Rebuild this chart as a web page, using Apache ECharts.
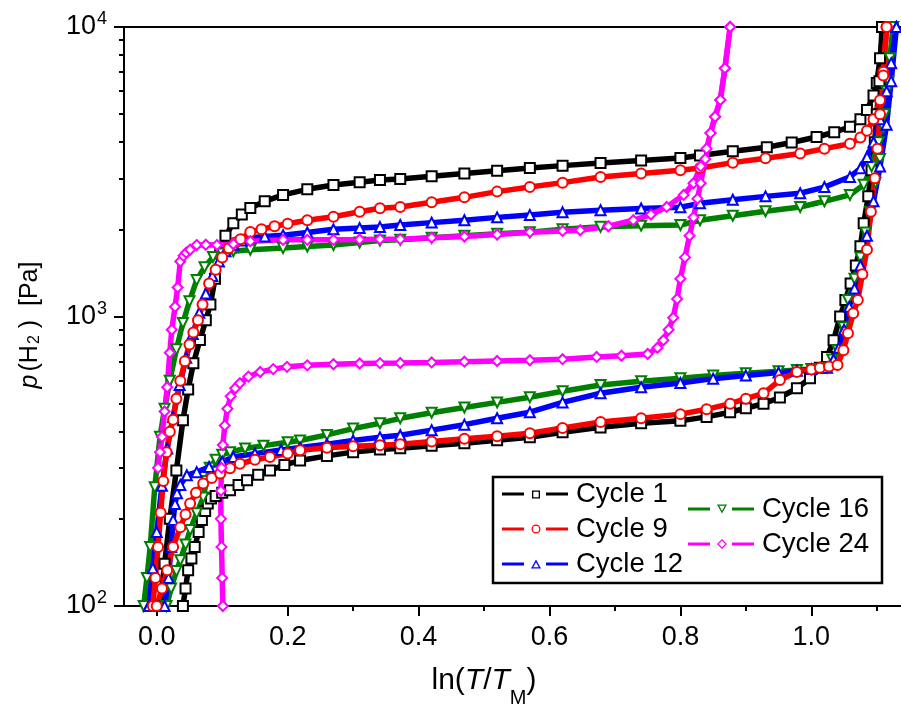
<!DOCTYPE html>
<html>
<head>
<meta charset="utf-8">
<script src="https://cdn.jsdelivr.net/npm/echarts@6/dist/echarts.min.js"></script>
<style>html,body{margin:0;padding:0;background:#fff}#c{width:901px;height:709px}</style>
</head>
<body>
<div id="c"></div>
<script>
// ---- data ----
const cycleNames = ['Cycle 1', 'Cycle 9', 'Cycle 12', 'Cycle 16', 'Cycle 24'];
const xTickValues = [0, 0.2, 0.4, 0.6, 0.8, 1.0];
const xMinorTickValues = [0.1, 0.3, 0.5, 0.7, 0.9, 1.1];

// Cycle 1 (black)
const c1UpX = [0.005,0.012,0.02,0.03,0.04,0.048,0.056,0.066,0.075,0.082,0.089,0.097,0.105,0.117,0.13,0.143,0.165,0.193,0.23,0.27,0.31,0.341,0.372,0.42,0.47,0.52,0.57,0.62,0.678,0.74,0.8,0.83,0.88,0.932,0.97,1.008,1.035,1.059,1.075,1.085,1.095,1.10,1.105,1.11];
const c1UpY = [100,140,200,294,438,560,689,830,970,1100,1350,1650,1900,2100,2250,2370,2500,2630,2750,2845,2910,2960,2985,3050,3120,3190,3260,3320,3390,3460,3525,3600,3720,3845,3990,4170,4330,4520,4800,5170,5800,6400,7800,10000];
const c1LoX = [0.04,0.044,0.048,0.053,0.058,0.064,0.069,0.074,0.078,0.083,0.09,0.1,0.112,0.125,0.138,0.155,0.173,0.195,0.219,0.26,0.3,0.341,0.372,0.42,0.47,0.52,0.57,0.62,0.678,0.74,0.8,0.84,0.876,0.9,0.927,0.952,0.978,0.998,1.013,1.024,1.034,1.044,1.052,1.06,1.068,1.075,1.08,1.087,1.092,1.097,1.10,1.104,1.108];
const c1LoY = [100,115,133,146,160,180,198,213,226,235,240,246,251,262,272,284,294,307,318,330,340,347,351,358,365,374,383,398,414,428,436,450,467,482,500,525,565,612,665,725,828,1000,1140,1300,1500,1750,2100,2600,3200,4000,5000,6500,10000];

// Cycle 9 (red)
const c9UpX = [-0.006,-0.002,0.002,0.006,0.01,0.015,0.02,0.025,0.03,0.036,0.043,0.05,0.056,0.063,0.07,0.08,0.09,0.1,0.11,0.12,0.128,0.143,0.16,0.18,0.2,0.23,0.27,0.31,0.341,0.372,0.42,0.47,0.52,0.57,0.62,0.678,0.74,0.8,0.83,0.88,0.93,0.983,1.02,1.059,1.075,1.085,1.095,1.105,1.11,1.115];
const c9UpY = [100,125,160,210,270,340,400,440,520,600,700,800,880,970,1100,1300,1450,1600,1720,1800,1850,1960,2000,2050,2090,2150,2210,2300,2365,2390,2480,2580,2700,2800,2900,3035,3120,3200,3260,3400,3520,3655,3800,3950,4150,4385,4800,5585,7000,10000];
const c9LoX = [0.0,0.008,0.016,0.025,0.036,0.044,0.051,0.06,0.071,0.084,0.097,0.112,0.127,0.15,0.173,0.2,0.219,0.26,0.3,0.341,0.372,0.42,0.47,0.52,0.57,0.62,0.678,0.74,0.8,0.84,0.876,0.9,0.927,0.952,0.978,1.0,1.013,1.027,1.04,1.049,1.056,1.064,1.071,1.078,1.085,1.091,1.097,1.101,1.105,1.11,1.115];
const c9LoY = [100,115,133,160,187,207,226,246,265,277,287,299,310,320,327,336,345,352,356,359,362,370,378,386,395,412,432,445,460,478,500,520,543,603,643,656,665,672,680,765,875,1026,1140,1400,1700,2300,3000,3800,5000,6800,10000];

// Cycle 12 (blue)
const c12UpX = [-0.012,-0.006,0.0,0.008,0.016,0.025,0.035,0.045,0.055,0.065,0.075,0.085,0.095,0.105,0.117,0.13,0.143,0.165,0.193,0.23,0.27,0.31,0.341,0.372,0.42,0.47,0.52,0.57,0.62,0.678,0.74,0.8,0.83,0.88,0.93,0.983,1.02,1.059,1.075,1.085,1.095,1.105,1.115,1.122,1.13];
const c12UpY = [100,135,180,260,350,450,580,720,870,1030,1200,1380,1550,1680,1770,1830,1870,1890,1910,1950,2000,2020,2036,2070,2110,2150,2200,2240,2290,2330,2360,2385,2460,2530,2600,2665,2800,3035,3250,3555,4000,4800,6000,7500,10000];
const c12LoX = [0.012,0.018,0.022,0.025,0.028,0.031,0.036,0.046,0.061,0.08,0.1,0.117,0.15,0.19,0.219,0.26,0.3,0.341,0.372,0.42,0.47,0.52,0.57,0.62,0.678,0.74,0.8,0.85,0.9,0.95,0.978,1.0,1.024,1.034,1.042,1.05,1.058,1.066,1.075,1.085,1.095,1.105,1.115,1.122,1.13];
const c12LoY = [100,125,160,198,225,245,262,283,290,302,315,327,336,346,353,362,373,383,389,405,423,445,467,505,543,570,589,610,625,640,650,658,665,710,780,900,1080,1250,1500,1900,2500,3300,4600,6500,10000];

// Cycle 16 (green)
const c16UpX = [-0.02,-0.015,-0.01,-0.003,0.005,0.012,0.02,0.03,0.04,0.05,0.061,0.073,0.086,0.1,0.117,0.143,0.193,0.23,0.27,0.31,0.341,0.372,0.42,0.47,0.52,0.57,0.62,0.678,0.74,0.8,0.83,0.88,0.93,0.983,1.02,1.059,1.08,1.092,1.103,1.112,1.118,1.125];
const c16UpY = [100,125,160,257,384,480,600,770,950,1130,1336,1480,1606,1650,1680,1700,1723,1745,1765,1800,1830,1840,1870,1900,1930,1955,2000,2040,2060,2070,2150,2230,2310,2390,2500,2630,2850,3300,4000,5000,6500,10000];
const c16LoX = [0.015,0.022,0.03,0.036,0.044,0.051,0.061,0.071,0.076,0.081,0.09,0.1,0.112,0.135,0.163,0.2,0.219,0.26,0.3,0.341,0.372,0.42,0.47,0.52,0.57,0.62,0.678,0.74,0.8,0.85,0.9,0.95,0.978,1.0,1.024,1.032,1.04,1.049,1.056,1.066,1.075,1.083,1.09,1.098,1.105,1.11,1.115,1.12,1.125];
const c16LoY = [100,115,132,144,163,183,209,237,270,300,320,333,340,350,358,368,373,390,410,428,445,465,485,505,526,552,580,598,612,625,637,647,653,659,665,710,765,918,1140,1350,1600,1950,2300,2900,3500,4500,6000,7800,10000];

// Cycle 24 (magenta)
const c24UpX = [0.002,0.005,0.008,0.012,0.016,0.02,0.023,0.028,0.032,0.036,0.041,0.045,0.051,0.061,0.075,0.092,0.117,0.143,0.193,0.23,0.27,0.31,0.341,0.372,0.42,0.47,0.52,0.57,0.62,0.647,0.69,0.728,0.755,0.779,0.805,0.82,0.831,0.84,0.846,0.853,0.861,0.868,0.876];
const c24UpY = [300,340,384,470,570,750,900,1080,1260,1550,1620,1660,1700,1765,1770,1765,1780,1820,1840,1840,1840,1845,1850,1850,1870,1890,1920,1955,1975,1986,2050,2150,2250,2390,2630,2885,3300,3800,4300,4900,5600,7200,10000];
const c24LoX = [0.101,0.1,0.099,0.098,0.098,0.099,0.101,0.104,0.108,0.113,0.12,0.127,0.14,0.158,0.178,0.199,0.23,0.27,0.31,0.341,0.372,0.42,0.47,0.52,0.57,0.62,0.672,0.71,0.75,0.765,0.774,0.782,0.789,0.795,0.8,0.807,0.814,0.82,0.826,0.831,0.838,0.846,0.853,0.861,0.868,0.876];
const c24LoY = [100,125,160,200,250,300,360,420,480,530,565,588,620,643,658,670,678,684,688,690,691,694,698,702,706,712,725,732,742,780,828,900,990,1150,1350,1600,1900,2200,2550,2885,3500,4300,4900,5600,7200,10000];

// ---- styling ----
const FONT = '"Liberation Sans", Arial, sans-serif';
const colors = {'Cycle 1':'#000000','Cycle 9':'#ff0000','Cycle 12':'#0000ff','Cycle 16':'#008000','Cycle 24':'#ff00ff'};
const symbols = {'Cycle 1':'emptyRect','Cycle 9':'emptyCircle','Cycle 12':'emptyTriangle','Cycle 16':'emptyTriangle','Cycle 24':'emptyDiamond'};
const rotates = {'Cycle 16':180};

function pairs(xs, ys) { return xs.map((x, i) => [x, ys[i]]); }

function mkSeries(name, xs, ys) {
  return {
    name: name, type: 'line', data: pairs(xs, ys),
    xAxisIndex: 0, yAxisIndex: 0,
    symbol: symbols[name], symbolRotate: rotates[name] || 0, symbolSize: 10,
    showSymbol: true, showAllSymbol: true,
    lineStyle: {color: colors[name], width: 5.5},
    itemStyle: {color: colors[name], borderWidth: 1.5},
    emphasis: {disabled: true}, clip: true, animation: false
  };
}

// drawing order: magenta on top, red above blue/green/black
const seriesList = [
  mkSeries('Cycle 1', c1UpX, c1UpY), mkSeries('Cycle 1', c1LoX, c1LoY),
  mkSeries('Cycle 16', c16UpX, c16UpY), mkSeries('Cycle 16', c16LoX, c16LoY),
  mkSeries('Cycle 12', c12UpX, c12UpY), mkSeries('Cycle 12', c12LoX, c12LoY),
  mkSeries('Cycle 9', c9UpX, c9UpY), mkSeries('Cycle 9', c9LoX, c9LoY),
  mkSeries('Cycle 24', c24UpX, c24UpY), mkSeries('Cycle 24', c24LoX, c24LoY)
];

// legend icons: line - hollow marker - line
const B = 'M0,0 L0.1,0 L0.1,0.1 Z M65.9,11.9 L66,11.9 L66,12 Z ';
const L = 'M0,4.5 H22 V7.5 H0 Z M44,4.5 H66 V7.5 H44 Z ';
const icons = {
  'Cycle 1': 'path://' + B + L + 'M30,2.5 H38 V10.5 H30 Z M31.3,3.8 V9.2 H36.7 V3.8 Z',
  'Cycle 9': 'path://' + B + L + 'M29.5,6 A4.5,4.5 0 1,0 38.5,6 A4.5,4.5 0 1,0 29.5,6 Z M30.8,6 A3.2,3.2 0 1,1 37.2,6 A3.2,3.2 0 1,1 30.8,6 Z',
  'Cycle 12': 'path://' + B + L + 'M34,1.5 L39,10.5 L29,10.5 Z M34,4.2 L31.2,9.3 L36.8,9.3 Z',
  'Cycle 16': 'path://' + B + L + 'M29,1.5 L39,1.5 L34,10.5 Z M31.2,2.7 L34,7.8 L36.8,2.7 Z',
  'Cycle 24': 'path://' + B + L + 'M34,1 L39,6 L34,11 L29,6 Z M34,2.8 L30.8,6 L34,9.2 L37.2,6 Z'
};

function legendOf(names, left, top) {
  return {
    orient: 'vertical', left: left, top: top, padding: 0,
    itemWidth: 66, itemHeight: 12, itemGap: 5, selectedMode: false,
    itemStyle: {borderWidth: 0},
    data: names.map(n => ({name: n, icon: icons[n]})),
    textStyle: {fontFamily: FONT, fontSize: 27.5, color: '#000', lineHeight: 30, padding: [0, 0, 0, 3]}
  };
}

const X_MIN = -0.05, X_MAX = 1.137;

const option = {
  backgroundColor: '#fff',
  animation: false,
  grid: {left: 124, right: 0, top: 27, bottom: 103},
  xAxis: [
    {
      type: 'value', min: X_MIN, max: X_MAX, position: 'bottom',
      axisLine: {show: true, onZero: false, lineStyle: {color: '#000', width: 2}},
      axisTick: {show: true, customValues: xTickValues, length: 10, lineStyle: {color: '#000', width: 2}},
      axisLabel: {show: true, customValues: xTickValues, margin: 18, color: '#000', fontFamily: FONT, fontSize: 27,
                  formatter: v => v.toFixed(1)},
      splitLine: {show: false}
    },
    {
      type: 'value', min: X_MIN, max: X_MAX, position: 'bottom',
      axisLine: {show: false},
      axisTick: {show: true, customValues: xMinorTickValues, length: 5, lineStyle: {color: '#000', width: 2}},
      axisLabel: {show: false}, splitLine: {show: false}
    },
    {
      type: 'value', min: X_MIN, max: X_MAX, position: 'top',
      axisLine: {show: true, onZero: false, lineStyle: {color: '#000', width: 2}},
      axisTick: {show: false}, axisLabel: {show: false}, splitLine: {show: false}
    }
  ],
  yAxis: [
    {
      type: 'log', logBase: 10, min: 100, max: 10000, position: 'left',
      axisLine: {show: true, onZero: false, lineStyle: {color: '#000', width: 2}},
      axisTick: {show: true, length: 10, lineStyle: {color: '#000', width: 2}},
      minorTick: {show: true, splitNumber: 9, length: 5, lineStyle: {color: '#000', width: 2}},
      axisLabel: {
        margin: 17, color: '#000', fontFamily: FONT, fontSize: 27,
        formatter: v => '{b|10}{s|' + Math.round(Math.log10(v)) + '}',
        rich: {
          b: {fontSize: 27, fontFamily: FONT, color: '#000'},
          s: {fontSize: 18, fontFamily: FONT, color: '#000', padding: [0, 0, 15, 1]}
        }
      },
      splitLine: {show: false}, minorSplitLine: {show: false}
    }
  ],
  legend: [
    legendOf(['Cycle 1', 'Cycle 9', 'Cycle 12'], 502, 479),
    legendOf(['Cycle 16', 'Cycle 24'], 688, 494)
  ],
  graphic: [
    {type: 'rect', shape: {x: 493, y: 477, width: 389, height: 106},
     style: {fill: 'none', stroke: '#000', lineWidth: 2.5}, z: 10, silent: true},
    {type: 'text', x: 484, y: 681, z: 10, silent: true,
     style: {
       text: '{n|ln(}{i|T}{n|/}{i|T}{s|M}{n|)}', align: 'center', verticalAlign: 'middle',
       rich: {
         n: {fontSize: 30, fontFamily: FONT, fill: '#000'},
         i: {fontSize: 30, fontFamily: FONT, fontStyle: 'italic', fill: '#000'},
         s: {fontSize: 20, fontFamily: FONT, fill: '#000', padding: [34, 0, 0, 0]}
       }
     }},
    {type: 'text', x: 30, y: 325, rotation: Math.PI / 2, z: 10, silent: true,
     style: {
       text: '{i|p}{n|(H}{s|2}{n|\u00a0)\u00a0\u00a0[Pa]}', align: 'center', verticalAlign: 'middle',
       rich: {
         n: {fontSize: 25, fontFamily: FONT, fill: '#000'},
         i: {fontSize: 25, fontFamily: FONT, fontStyle: 'italic', fill: '#000', padding: [0, 3, 0, 0]},
         s: {fontSize: 16, fontFamily: FONT, fill: '#000', padding: [10, 0, 0, 1]}
       }
     }}
  ],
  series: seriesList
};

const chart = echarts.init(document.getElementById('c'), null, {renderer: 'canvas'});
chart.setOption(option);
</script>
</body>
</html>
